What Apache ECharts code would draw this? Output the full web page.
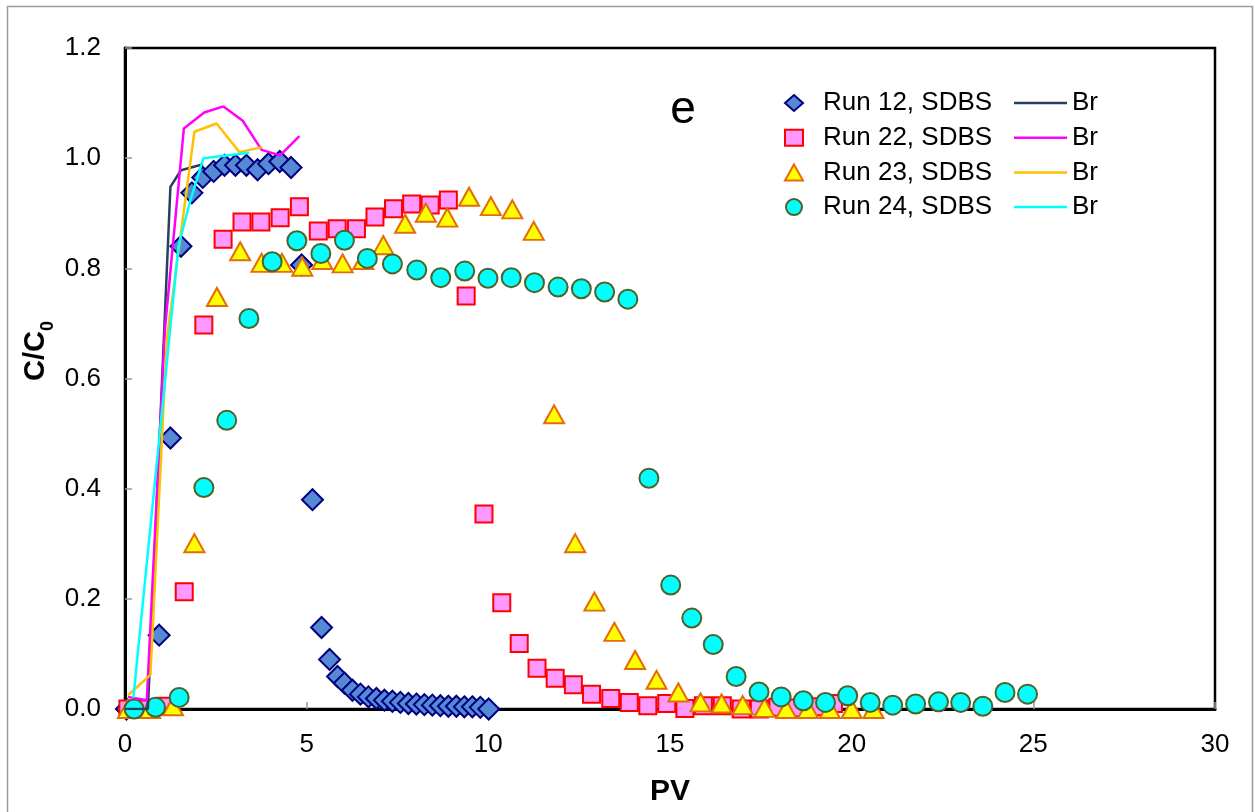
<!DOCTYPE html>
<html>
<head>
<meta charset="utf-8">
<script src="https://cdn.jsdelivr.net/npm/echarts@6/dist/echarts.min.js"></script>
<style>
  html, body { margin: 0; padding: 0; background: #fff; }
  #chart { width: 1255px; height: 812px; }
</style>
</head>
<body>
<div id="chart"></div>
<script>
// Run 12, SDBS
let run12X = [0.04, 0.94, 1.25, 1.54, 1.84, 2.14, 2.44, 2.74, 3.04, 3.34, 3.65, 3.95, 4.26, 4.57, 4.86, 5.16, 5.41, 5.63, 5.85, 6.04, 6.26, 6.48, 6.70, 6.92, 7.14, 7.36, 7.58, 7.80, 8.02, 8.24, 8.46, 8.68, 8.90, 9.12, 9.34, 9.56, 9.78, 10.01]
let run12Y = [0, 0.134, 0.492, 0.840, 0.937, 0.965, 0.976, 0.987, 0.987, 0.987, 0.979, 0.990, 0.994, 0.983, 0.806, 0.380, 0.148, 0.090, 0.059, 0.047, 0.034, 0.027, 0.022, 0.019, 0.016, 0.014, 0.012, 0.010, 0.009, 0.008, 0.007, 0.006, 0.005, 0.005, 0.004, 0.004, 0.003, 0]
// Run 22, SDBS
let run22X = [0.08, 0.60, 1.12, 1.63, 2.17, 2.70, 3.22, 3.74, 4.27, 4.80, 5.32, 5.84, 6.37, 6.88, 7.39, 7.89, 8.40, 8.90, 9.39, 9.88, 10.37, 10.85, 11.34, 11.84, 12.34, 12.84, 13.37, 13.88, 14.39, 14.91, 15.41, 15.92, 16.44, 16.96, 17.46, 17.97, 18.48, 18.99, 19.50]
let run22Y = [0, 0, 0.005, 0.213, 0.697, 0.853, 0.884, 0.884, 0.892, 0.912, 0.868, 0.872, 0.872, 0.893, 0.908, 0.917, 0.915, 0.924, 0.750, 0.354, 0.193, 0.119, 0.074, 0.056, 0.044, 0.027, 0.019, 0.012, 0.006, 0.010, 0.001, 0.006, 0.006, 0, 0, 0.003, 0.002, 0.004, 0.010]
// Run 23, SDBS
let run23X = [0.08, 0.69, 1.32, 1.91, 2.53, 3.17, 3.76, 4.32, 4.88, 5.43, 5.99, 6.56, 7.11, 7.71, 8.28, 8.87, 9.47, 10.07, 10.66, 11.25, 11.81, 12.39, 12.92, 13.47, 14.04, 14.63, 15.23, 15.84, 16.42, 17.00, 17.60, 18.20, 18.80, 19.40, 20.00, 20.60]
let run23Y = [0, 0, 0.005, 0.301, 0.748, 0.831, 0.810, 0.810, 0.803, 0.815, 0.809, 0.815, 0.842, 0.881, 0.901, 0.892, 0.930, 0.913, 0.907, 0.868, 0.535, 0.301, 0.195, 0.140, 0.089, 0.053, 0.030, 0.012, 0.010, 0.007, 0.002, 0, 0, 0, 0, 0]
// Run 24, SDBS
let run24X = [0.25, 0.84, 1.49, 2.17, 2.80, 3.41, 4.05, 4.73, 5.39, 6.04, 6.67, 7.36, 8.03, 8.69, 9.35, 9.99, 10.63, 11.27, 11.92, 12.56, 13.20, 13.84, 14.42, 15.02, 15.60, 16.19, 16.82, 17.45, 18.06, 18.67, 19.28, 19.89, 20.51, 21.13, 21.76, 22.39, 23.00, 23.61, 24.22, 24.84]
let run24Y = [0, 0.003, 0.021, 0.402, 0.524, 0.709, 0.812, 0.850, 0.827, 0.851, 0.818, 0.808, 0.797, 0.783, 0.795, 0.782, 0.783, 0.774, 0.766, 0.763, 0.757, 0.744, 0.419, 0.225, 0.165, 0.117, 0.059, 0.031, 0.022, 0.015, 0.012, 0.024, 0.012, 0.007, 0.009, 0.013, 0.012, 0.005, 0.030, 0.027]

// Br tracer curves
let br12X = [0, 0.63, 1.25, 1.54, 2.15]
let br12Y = [0, 0, 0.948, 0.978, 0.989]
let br22X = [0.08, 0.60, 1.10, 1.62, 2.18, 2.71, 3.24, 3.76, 4.27, 4.80]
let br22Y = [0.022, 0.016, 0.69, 1.054, 1.083, 1.094, 1.068, 1.015, 1.005, 1.040]
let br23X = [0.08, 0.70, 1.15, 1.91, 2.52, 3.15, 3.78]
let br23Y = [0.025, 0.062, 0.67, 1.048, 1.063, 1.011, 1.020]
let br24X = [0.23, 1.47, 1.79, 2.16, 3.42]
let br24Y = [0.02, 0.84, 0.921, 1.0, 1.01]

let runNames = ['Run 12, SDBS', 'Run 22, SDBS', 'Run 23, SDBS', 'Run 24, SDBS']
let brNames = ['Br 12', 'Br 22', 'Br 23', 'Br 24']

const font = '"Liberation Sans", Arial, sans-serif'

function pairs (xs, ys) {
    return xs.map((x, i) => [x, ys[i]])
}

function scatter (name, xs, ys, symbol, size, fill, border) {
    return {
        name: name,
        type: 'scatter',
        symbol: symbol,
        symbolSize: size,
        itemStyle: { color: fill, borderColor: border, borderWidth: 2, opacity: 1 },
        data: pairs(xs, ys)
    }
}

function brLine (name, xs, ys, color) {
    return {
        name: name,
        type: 'line',
        showSymbol: false,
        symbol: 'none',
        lineStyle: { color: color, width: 2.5 },
        itemStyle: { color: color },
        data: pairs(xs, ys)
    }
}

let myChart = echarts.init(document.getElementById('chart'))

let option = {
    animation: false,
    textStyle: { fontFamily: font },
    grid: {
        left: 125,
        right: 40,
        top: 48,
        bottom: 103,
        show: true,
        borderColor: '#000',
        borderWidth: 2.5
    },
    legend: [
        {
            data: runNames,
            orient: 'vertical',
            left: 784,
            top: 90,
            padding: 0,
            itemGap: 8.7,
            itemWidth: 18,
            itemHeight: 16,
            textStyle: { fontSize: 26, lineHeight: 26, color: '#000', fontFamily: font, padding: [0, 0, 0, 15] }
        },
        {
            data: brNames,
            orient: 'vertical',
            left: 1014,
            top: 90,
            padding: 0,
            itemGap: 8.7,
            itemWidth: 53,
            itemHeight: 2.5,
            icon: 'rect',
            formatter: function () { return 'Br' },
            textStyle: { fontSize: 26, lineHeight: 26, color: '#000', fontFamily: font }
        }
    ],
    xAxis: {
        type: 'value',
        min: 0,
        max: 30,
        interval: 5,
        name: 'PV',
        nameLocation: 'middle',
        nameGap: 68,
        nameTextStyle: { fontSize: 30, fontWeight: 'bold', color: '#000', fontFamily: font },
        axisLine: { onZero: false, lineStyle: { color: '#000', width: 3 } },
        axisTick: { inside: true, length: 7, lineStyle: { color: '#999', width: 1.5 } },
        axisLabel: { fontSize: 26, color: '#000', margin: 23, fontFamily: font },
        splitLine: { show: false }
    },
    yAxis: {
        type: 'value',
        min: 0,
        max: 1.2,
        interval: 0.2,
        axisLine: { onZero: false, lineStyle: { color: '#000', width: 3 } },
        axisTick: { inside: true, length: 7, lineStyle: { color: '#999', width: 1.5 } },
        axisLabel: {
            fontSize: 26,
            color: '#000',
            margin: 24,
            fontFamily: font,
            formatter: function (v) { return v.toFixed(1) }
        },
        splitLine: { show: false }
    },
    graphic: [
        {
            type: 'rect',
            silent: true,
            shape: { x: 7.5, y: 6.5, width: 1245, height: 900 },
            style: { fill: 'none', stroke: '#9a9a9a', lineWidth: 1.5 }
        },
        {
            type: 'text',
            x: 36,
            y: 351,
            rotation: Math.PI / 2,
            style: {
                text: '{a|C/C}{b|0}',
                align: 'center',
                verticalAlign: 'middle',
                fill: '#000',
                rich: {
                    a: { fontSize: 29, fontWeight: 'bold', fontFamily: font, lineHeight: 30 },
                    b: { fontSize: 18, fontWeight: 'bold', fontFamily: font, verticalAlign: 'bottom', lineHeight: 18, padding: [0, 0, -6, 0] }
                }
            }
        },
        {
            type: 'text',
            x: 683,
            y: 110,
            style: {
                text: 'e',
                align: 'center',
                verticalAlign: 'middle',
                fill: '#000',
                fontSize: 46,
                fontFamily: font
            }
        }
    ],
    series: [
        scatter(runNames[0], run12X, run12Y, 'diamond', 21, '#5589D4', '#000080'),
        brLine(brNames[0], br12X, br12Y, '#254061'),
        scatter(runNames[1], run22X, run22Y, 'rect', 17, '#FF99FF', '#FF0000'),
        brLine(brNames[1], br22X, br22Y, '#FF00FF'),
        scatter(runNames[2], run23X, run23Y, 'triangle', [20, 18], '#FFFF00', '#E46C0A'),
        brLine(brNames[2], br23X, br23Y, '#FFC000'),
        scatter(runNames[3], run24X, run24Y, 'circle', 19, '#00FFFF', '#4F6228'),
        brLine(brNames[3], br24X, br24Y, '#00FFFF')
    ]
}

myChart.setOption(option)
</script>
</body>
</html>
